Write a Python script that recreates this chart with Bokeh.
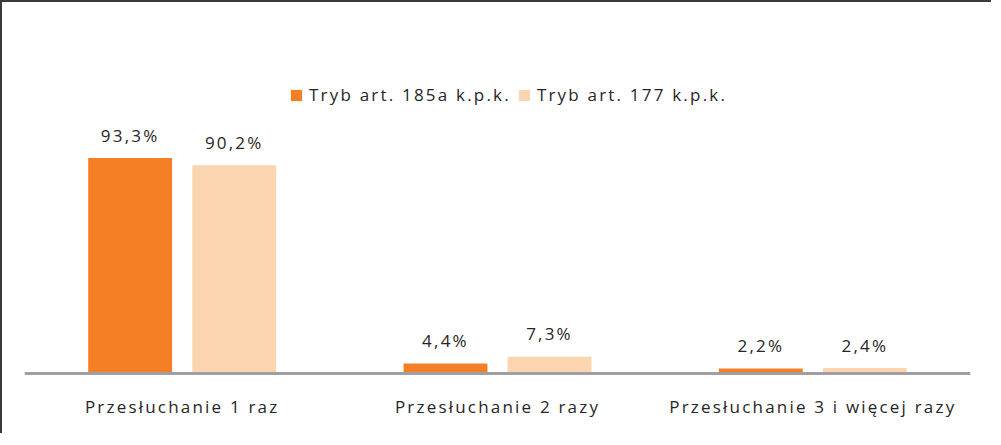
from bokeh.plotting import figure
from bokeh.models import ColumnDataSource, FactorRange, Range1d, Legend, LegendItem, Span
from bokeh.transform import dodge
from bokeh.core.properties import value
from bokeh.embed import file_html
from bokeh.resources import INLINE

categories = ["Przesłuchanie 1 raz", "Przesłuchanie 2 razy", "Przesłuchanie 3 i więcej razy"]
series_names = ["Tryb art. 185a k.p.k.", "Tryb art. 177 k.p.k."]
values_185a = [93.3, 4.4, 2.2]
values_177 = [90.2, 7.3, 2.4]
colors = ["#F47F26", "#FBD4B0"]

FONT = "Open Sans"
TEXT_COLOR = "#262626"
LS = 2.2  # letter spacing px (the reference text is letter-spaced)

def fmt(v):
    return f"{v:.1f}%".replace(".", ",")

def recentre(texts):
    # Bokeh centres text on its unspaced width; shift back by half the added spacing
    return [-len(t) * LS / 2 for t in texts]

la = [fmt(v) for v in values_185a]
lb = [fmt(v) for v in values_177]
source = ColumnDataSource(data=dict(
    cat=categories, a=values_185a, b=values_177,
    la=la, lb=lb, dxa=recentre(la), dxb=recentre(lb), dxc=recentre(categories),
))

p = figure(
    width=991, height=433,
    x_range=FactorRange(*categories, range_padding=0),
    y_range=Range1d(-26.8, 160.6),
    output_backend="svg", toolbar_location=None,
    min_border_left=22, min_border_right=23, min_border_top=0, min_border_bottom=0,
)
p.styles = {"border-top": "2px solid #3A3A3A", "border-left": "2px solid #3A3A3A",
            "letter-spacing": f"{LS}px"}
p.outline_line_color = None
p.xgrid.visible = False
p.ygrid.visible = False
p.xaxis.visible = False
p.yaxis.visible = False

ra = p.vbar(x=dodge("cat", -0.165, range=p.x_range), top="a", width=0.266,
            source=source, color=colors[0], line_color=None)
rb = p.vbar(x=dodge("cat", 0.165, range=p.x_range), top="b", width=0.266,
            source=source, color=colors[1], line_color=None)

# category axis line
p.add_layout(Span(location=0, dimension="width", line_color="#A0A0A4", line_width=3))

for off, ycol, tcol, dx in ((-0.165, "a", "la", "dxa"), (0.165, "b", "lb", "dxb")):
    p.text(x=dodge("cat", off, range=p.x_range), y=ycol,
           text=tcol, source=source, text_align="center", text_baseline="alphabetic",
           x_offset=dx, y_offset=-23, text_font=value(FONT), text_font_size="17px",
           text_color=TEXT_COLOR)

# category labels under the axis line
p.text(x="cat", y=0, text="cat", source=source, text_align="center",
       text_baseline="alphabetic", x_offset="dxc", y_offset=33,
       text_font=value(FONT), text_font_size="17px", text_color=TEXT_COLOR)

legend = Legend(
    items=[LegendItem(label=series_names[0], renderers=[ra]),
           LegendItem(label=series_names[1], renderers=[rb])],
    orientation="horizontal", location=(265, 329),
    padding=0, margin=0, spacing=6, label_standoff=6,
    glyph_width=14, glyph_height=14, label_height=20,
    border_line_color=None, background_fill_alpha=0,
    label_text_font=FONT, label_text_font_size="17px", label_text_color=TEXT_COLOR,
)
p.add_layout(legend)

open("out.html", "w").write(file_html(p, INLINE))
